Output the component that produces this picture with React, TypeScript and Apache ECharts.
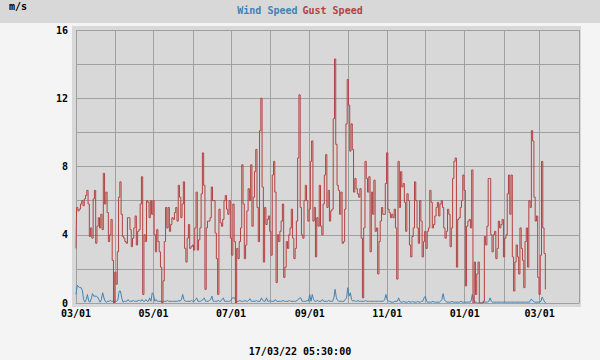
import React, { useEffect, useRef } from "react";
import * as echarts from "echarts";

// Daily x categories: 2021-03-01 .. 2022-04-01
const START_DATE = "2021-03-01";
const END_DATE = "2022-04-01";
function buildDays(a: string, b: string): string[] {
  const out: string[] = [];
  const t0 = Date.parse(a + "T00:00:00Z");
  const t1 = Date.parse(b + "T00:00:00Z");
  for (let t = t0; t <= t1; t += 86400000) out.push(new Date(t).toISOString().slice(0, 10));
  return out;
}
const days = buildDays(START_DATE, END_DATE);

const labelMonths = ["01", "03", "05", "07", "09", "11"];
const yTickLabels = [0, 4, 8, 12, 16];

// Gust speed, m/s, one value per day from 2021-03-01
const gustSpeed = [
  3.2, 5.6, 5.4, 5.5, 5.8, 6.0, 5.7, 6.1, 6.3, 6.6,
  5.8, 3.9, 4.4, 3.8, 6.1, 6.6, 3.5, 4.5, 5.0, 4.4,
  5.2, 4.3, 7.6, 5.8, 6.5, 5.3, 3.6, 4.0, 4.9, 2.5,
  0.0, 1.8, 1.1, 3.0, 6.2, 7.1, 5.2, 3.9, 3.8, 3.6,
  3.5, 5.0, 5.0, 4.3, 3.3, 3.8, 4.4, 5.1, 3.4, 4.2,
  4.3, 5.8, 7.4, 0.5, 4.0, 3.6, 6.0, 5.9, 5.0, 6.0,
  5.2, 6.0, 4.0, 3.0, 4.3, 3.6, 3.0, 2.1, 0.0, 1.3,
  3.6, 5.6, 4.4, 5.6, 4.2, 4.6, 5.0, 4.9, 5.3, 5.6,
  4.8, 6.9, 6.2, 5.0, 5.8, 7.1, 3.2, 2.4, 3.8, 4.6,
  3.2, 3.3, 3.4, 3.1, 4.4, 6.5, 3.1, 3.7, 4.4, 6.4,
  8.8, 6.9, 0.8, 4.4, 4.8, 4.8, 5.0, 6.8, 6.0, 6.0,
  4.1, 2.6, 0.5, 5.5, 4.7, 4.5, 4.9, 6.0, 6.3, 5.5,
  5.2, 6.0, 3.8, 2.8, 5.8, 3.6, 0.0, 3.2, 2.6, 3.6,
  4.4, 8.1, 5.8, 2.6, 3.4, 5.4, 6.7, 6.0, 8.1, 4.5,
  6.2, 7.7, 9.0, 5.6, 3.6, 10.1, 12.0, 6.8, 2.4, 5.6,
  4.6, 4.9, 5.1, 4.2, 2.8, 7.5, 8.3, 6.5, 1.2, 4.0,
  3.6, 4.2, 4.8, 5.8, 1.5, 2.1, 3.6, 3.2, 4.0, 4.4,
  5.5, 3.8, 2.6, 3.2, 4.8, 8.5, 12.2, 5.6, 4.0, 3.8,
  6.0, 6.9, 6.0, 4.8, 5.5, 8.3, 9.5, 4.8, 5.6, 2.7,
  5.0, 4.5, 6.9, 4.5, 4.0, 5.8, 7.5, 8.7, 5.6, 6.6,
  4.8, 5.4, 5.5, 10.8, 14.3, 9.3, 6.9, 6.6, 5.2, 6.5,
  3.5, 3.6, 5.5, 10.5, 13.1, 11.6, 8.9, 10.5, 9.0, 6.5,
  7.3, 6.7, 6.4, 6.2, 6.7, 3.8, 0.3, 4.4, 8.3, 7.3,
  6.5, 7.4, 3.0, 6.5, 5.2, 7.2, 4.2, 4.4, 1.7, 3.6,
  4.8, 5.6, 5.2, 5.2, 7.0, 8.8, 5.5, 5.3, 5.0, 5.2,
  5.0, 5.5, 4.4, 1.4, 8.3, 5.6, 7.7, 6.8, 7.0, 5.9,
  4.2, 6.4, 6.0, 3.4, 2.7, 3.9, 4.4, 7.1, 6.0, 4.4,
  3.5, 6.0, 4.8, 2.7, 3.6, 4.2, 3.2, 4.2, 4.4, 6.6,
  5.9, 4.4, 4.6, 5.1, 5.6, 5.9, 5.1, 5.8, 6.0, 5.6,
  4.4, 3.8, 4.2, 5.5, 5.2, 3.3, 4.4, 7.3, 8.3, 8.5,
  2.1, 4.9, 5.0, 5.6, 6.0, 7.5, 6.6, 1.0, 4.5, 4.8,
  4.9, 4.4, 7.8, 0.0, 2.4, 0.5, 1.7, 2.4, 0.0, 0.0,
  0.0, 0.1, 3.9, 3.4, 4.5, 7.3, 7.3, 4.0, 3.0, 4.0,
  4.2, 2.6, 3.2, 4.8, 4.4, 4.6, 4.9, 2.7, 3.8, 4.0,
  6.4, 7.5, 5.2, 7.5, 2.7, 0.7, 2.4, 3.4, 2.7, 1.7,
  4.4, 3.2, 2.5, 0.9, 3.6, 4.4, 2.1, 6.0, 5.6, 10.1,
  9.5, 6.2, 4.8, 5.1, 1.5, 0.5, 2.8, 8.3, 4.4, 2.9, 0.8,
];

// Wind speed, m/s, one value per day from 2021-03-01
const windSpeed = [
  0.5, 1.05, 0.95, 0.9, 0.9, 0.75, 0.2, 0.05, 0.2, 0.5,
  0.1, 0.05, 0.25, 0.55, 0.4, 0.4, 0.4, 0.35, 0.2, 0.05,
  0.2, 0.6, 0.3, 0.1, 0.05, 0.1, 0.1, 0.15, 0.1, 0.1,
  0.1, 0.1, 0.1, 0.2, 0.7, 0.7, 0.3, 0.05, 0.1, 0.1,
  0.1, 0.2, 0.1, 0.1, 0.1, 0.15, 0.1, 0.1, 0.1, 0.15,
  0.15, 0.1, 0.2, 0.1, 0.1, 0.2, 0.1, 0.1, 0.3, 0.1,
  0.6, 0.5, 0.1, 0.2, 0.1, 0.1, 0.1, 0.1, 0.1, 0.1,
  0.1, 0.1, 0.15, 0.1, 0.1, 0.1, 0.1, 0.1, 0.1, 0.1,
  0.1, 0.15, 0.1, 0.2, 0.5, 0.2, 0.1, 0.1, 0.1, 0.1,
  0.1, 0.15, 0.1, 0.1, 0.2, 0.3, 0.1, 0.1, 0.1, 0.15,
  0.2, 0.3, 0.1, 0.1, 0.1, 0.15, 0.2, 0.4, 0.1, 0.1,
  0.1, 0.1, 0.15, 0.1, 0.1, 0.2, 0.3, 0.1, 0.1, 0.1,
  0.1, 0.1, 0.15, 0.3, 0.3, 0.3, 0.1, 0.1, 0.1, 0.15,
  0.1, 0.1, 0.1, 0.15, 0.1, 0.1, 0.15, 0.25, 0.1, 0.1,
  0.1, 0.1, 0.15, 0.1, 0.1, 0.1, 0.3, 0.15, 0.1, 0.1,
  0.3, 0.1, 0.1, 0.15, 0.1, 0.1, 0.1, 0.2, 0.1, 0.1,
  0.1, 0.1, 0.1, 0.15, 0.1, 0.1, 0.1, 0.1, 0.15, 0.1,
  0.1, 0.1, 0.1, 0.1, 0.15, 0.2, 0.3, 0.3, 0.1, 0.1,
  0.1, 0.1, 0.15, 0.1, 0.5, 0.1, 0.5, 0.2, 0.1, 0.1,
  0.15, 0.1, 0.1, 0.1, 0.2, 0.1, 0.1, 0.1, 0.1, 0.15,
  0.1, 0.1, 0.1, 0.3, 0.8, 0.3, 0.15, 0.1, 0.1, 0.1,
  0.1, 0.1, 0.2, 0.3, 0.9, 0.4, 0.6, 0.2, 0.1, 0.15,
  0.1, 0.1, 0.15, 0.1, 0.1, 0.1, 0.1, 0.1, 0.15, 0.1,
  0.1, 0.1, 0.1, 0.1, 0.1, 0.1, 0.1, 0.1, 0.1, 0.1,
  0.1, 0.1, 0.1, 0.2, 0.5, 0.2, 0.1, 0.1, 0.05, 0.05,
  0.05, 0.1, 0.1, 0.1, 0.3, 0.1, 0.05, 0.05, 0.1, 0.05,
  0.05, 0.05, 0.1, 0.05, 0.05, 0.1, 0.05, 0.05, 0.05, 0.1,
  0.05, 0.05, 0.1, 0.1, 0.3, 0.4, 0.1, 0.05, 0.05, 0.05,
  0.05, 0.1, 0.05, 0.05, 0.05, 0.05, 0.05, 0.1, 0.2, 0.55,
  0.2, 0.1, 0.05, 0.05, 0.05, 0.05, 0.1, 0.05, 0.05, 0.05,
  0.05, 0.05, 0.05, 0.1, 0.05, 0.05, 0.05, 0.05, 0.05, 0.05,
  0.05, 0.1, 0.5, 0.2, 0.05, 0.05, 0.0, 0.0, 0.0, 0.0,
  0.0, 0.05, 0.05, 0.05, 0.05, 0.1, 0.3, 0.1, 0.05, 0.05,
  0.05, 0.05, 0.05, 0.05, 0.05, 0.05, 0.05, 0.05, 0.05, 0.05,
  0.05, 0.05, 0.05, 0.05, 0.05, 0.05, 0.05, 0.05, 0.05, 0.05,
  0.05, 0.05, 0.05, 0.05, 0.05, 0.05, 0.05, 0.05, 0.2, 0.2,
  0.1, 0.05, 0.05, 0.05, 0.05, 0.05, 0.1, 0.35, 0.2, 0.05, 0.0,
];

const FONT = "DejaVu Sans Mono";
const GRID_COLOR = "#a0a0a0";
const BLUE = "#4282b4";
const RED = "#b44242";

export default function App() {
  const ref = useRef<HTMLDivElement>(null);
  useEffect(() => {
    if (!ref.current) return;
    const chart = echarts.init(ref.current, undefined, { renderer: "svg" });
    const labelStyle = { color: "#000", fontFamily: FONT, fontSize: 10, fontWeight: "bold" as const };
    chart.setOption({
      animation: false,
      backgroundColor: "#f4f4f4",
      title: {
        left: "center",
        top: 1,
        padding: 0,
        text: "{b|Wind Speed} {r|Gust Speed}",
        textStyle: {
          rich: {
            b: { color: BLUE, fontFamily: FONT, fontSize: 10, fontWeight: "bold" },
            r: { color: RED, fontFamily: FONT, fontSize: 10, fontWeight: "bold" },
          },
        },
      },
      graphic: [
        { type: "rect", z: -10, silent: true, shape: { x: 0, y: 0, width: 600, height: 23 }, style: { fill: "#d8d8d8" } },
        { type: "rect", z: -10, silent: true, shape: { x: 72, y: 26, width: 509, height: 281 }, style: { fill: "#d8d8d8" } },
        { type: "text", x: 9, y: 1, style: { text: "m/s", fill: "#000", font: `bold 10px ${FONT}`, textVerticalAlign: "top" } },
        { type: "text", x: 300, y: 351, style: { text: "17/03/22 05:30:00", fill: "#000", font: `bold 10px ${FONT}`, textAlign: "center", textVerticalAlign: "middle" } },
      ],
      grid: { left: 76, right: 21, top: 30, bottom: 57, containLabel: false },
      xAxis: {
        type: "category",
        data: days,
        boundaryGap: false,
        axisLine: { show: true, lineStyle: { color: GRID_COLOR, width: 1 } },
        axisTick: { show: false },
        axisLabel: {
          ...labelStyle,
          margin: 5,
          interval: (_i: number, v: string) => v.endsWith("-01") && labelMonths.includes(v.slice(5, 7)),
          formatter: (v: string) => `${v.slice(5, 7)}/${v.slice(8, 10)}`,
        },
        splitLine: {
          show: true,
          interval: (_i: number, v: string) => v.endsWith("-01"),
          lineStyle: { color: GRID_COLOR, width: 1 },
        },
      },
      yAxis: {
        type: "value",
        min: 0,
        max: 16,
        interval: 2,
        axisLine: { show: false },
        axisTick: { show: false },
        axisLabel: {
          ...labelStyle,
          margin: 8,
          formatter: (v: number) => (yTickLabels.includes(v) ? String(v) : ""),
        },
        splitLine: { show: true, lineStyle: { color: GRID_COLOR, width: 1 } },
      },
      series: [
        {
          name: "Wind Speed",
          type: "line",
          data: windSpeed,
          showSymbol: false,
          silent: true,
          lineStyle: { color: BLUE, width: 1 },
          itemStyle: { color: BLUE },
        },
        {
          name: "Gust Speed",
          type: "line",
          step: "middle",
          data: gustSpeed,
          showSymbol: false,
          silent: true,
          lineStyle: { color: RED, width: 1 },
          itemStyle: { color: RED },
        },
      ],
    });
    return () => chart.dispose();
  }, []);
  return <div ref={ref} style={{ position: "fixed", left: 0, top: 0, width: 600, height: 360 }} />;
}
